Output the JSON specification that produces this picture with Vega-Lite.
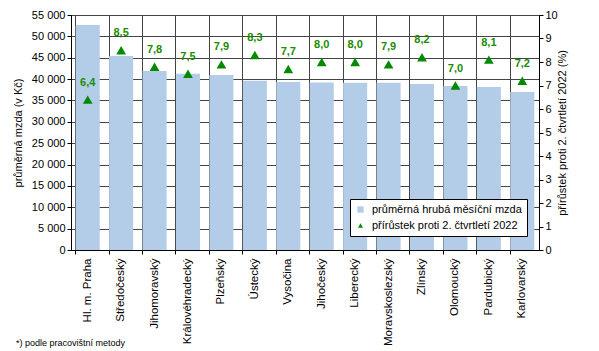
{
  "$schema": "https://vega.github.io/schema/vega-lite/v6.json",
  "width": 468,
  "height": 235,
  "autosize": {"type": "none"},
  "padding": {"left": 71, "top": 15, "right": 60, "bottom": 101},
  "config": {
    "locale": {"number": {"decimal": ",", "thousands": " ", "grouping": [3], "currency": ["", " Kč"]}},
    "font": "Liberation Sans",
    "view": {"stroke": "black", "strokeWidth": 1},
    "axis": {
      "labelFont": "Liberation Sans", "labelFontSize": 11, "labelColor": "black",
      "titleFont": "Liberation Sans", "titleFontSize": 11, "titleFontWeight": "normal", "titleColor": "black",
      "domainColor": "black", "tickColor": "black", "gridColor": "#444444", "gridWidth": 1
    },
    "legend": {"labelFont": "Liberation Sans", "labelFontSize": 11, "labelColor": "black"}
  },
  "title": {
    "text": "*) podle pracovištní metody",
    "orient": "bottom", "anchor": "start", "frame": "group",
    "dx": -55, "offset": -7,
    "fontSize": 9, "fontWeight": "normal", "font": "Liberation Sans", "color": "black"
  },
  "data": {"values": [
    {"kraj": "Hl. m. Praha", "mzda": 52660, "prirustek": 6.4},
    {"kraj": "Středočeský", "mzda": 45400, "prirustek": 8.5},
    {"kraj": "Jihomoravský", "mzda": 41900, "prirustek": 7.8},
    {"kraj": "Královéhradecký", "mzda": 41260, "prirustek": 7.5},
    {"kraj": "Plzeňský", "mzda": 40960, "prirustek": 7.9},
    {"kraj": "Ústecký", "mzda": 39620, "prirustek": 8.3},
    {"kraj": "Vysočina", "mzda": 39320, "prirustek": 7.7},
    {"kraj": "Jihočeský", "mzda": 39180, "prirustek": 8.0},
    {"kraj": "Liberecký", "mzda": 39160, "prirustek": 8.0},
    {"kraj": "Moravskoslezský", "mzda": 39150, "prirustek": 7.9},
    {"kraj": "Zlínský", "mzda": 38850, "prirustek": 8.2},
    {"kraj": "Olomoucký", "mzda": 38380, "prirustek": 7.0},
    {"kraj": "Pardubický", "mzda": 38150, "prirustek": 8.1},
    {"kraj": "Karlovarský", "mzda": 36980, "prirustek": 7.2}
  ]},
  "encoding": {
    "x": {
      "field": "kraj", "type": "nominal", "sort": null,
      "scale": {"paddingInner": 0.28, "paddingOuter": 0.14},
      "axis": {
        "title": null, "labelAngle": -90, "labelPadding": 4, "labelFontSize": 11.5,
        "grid": true, "bandPosition": 0, "ticks": true, "tickSize": 4, "domain": true
      }
    }
  },
  "layer": [
    {
      "mark": {"type": "bar"},
      "encoding": {
        "y": {
          "field": "mzda", "type": "quantitative",
          "scale": {"domain": [0, 55000], "nice": false},
          "axis": {"title": "průměrná mzda (v Kč)", "format": ",d", "labelOverlap": false, "values": [0,5000,10000,15000,20000,25000,30000,35000,40000,45000,50000,55000], "grid": true, "tickSize": 4, "titlePadding": 8}
        },
        "color": {
          "datum": "průměrná hrubá měsíční mzda",
          "scale": {"domain": ["průměrná hrubá měsíční mzda", "přírůstek proti 2. čtvrtletí 2022"], "range": ["#b3cde8", "#008a00"]},
          "legend": {
            "title": null, "orient": "none", "legendX": 279, "legendY": 184,
            "strokeColor": "black", "fillColor": "white", "padding": 5,
            "symbolSize": 40, "rowPadding": 4, "labelOffset": 6,
            "encode": {"symbols": {"update": {
              "shape": {"signal": "datum.value === 'průměrná hrubá měsíční mzda' ? 'square' : 'triangle-up'"},
              "size": {"signal": "datum.value === 'průměrná hrubá měsíční mzda' ? 40 : 25"},
              "strokeWidth": {"value": 0}
            }}}
          }
        }
      }
    },
    {
      "mark": {"type": "point", "filled": true, "opacity": 1, "size": 95, "shape": "triangle-up"},
      "encoding": {
        "y": {
          "field": "prirustek", "type": "quantitative",
          "scale": {"domain": [0, 10], "nice": false},
          "axis": {"title": "přírůstek proti 2. čtvrtletí 2022 (%)", "orient": "right", "values": [0,1,2,3,4,5,6,7,8,9,10], "grid": false, "tickSize": 4, "titleAngle": -90, "titlePadding": 10}
        },
        "color": {"datum": "přírůstek proti 2. čtvrtletí 2022"}
      }
    },
    {
      "mark": {"type": "text", "dy": -17, "fontWeight": "bold", "fontSize": 11, "color": "#1a8c00", "font": "Liberation Sans"},
      "encoding": {
        "y": {"field": "prirustek", "type": "quantitative", "scale": {"domain": [0, 10], "nice": false}, "axis": null},
        "text": {"field": "prirustek", "type": "quantitative", "format": ".1f"}
      }
    }
  ],
  "resolve": {"scale": {"y": "independent"}}
}
